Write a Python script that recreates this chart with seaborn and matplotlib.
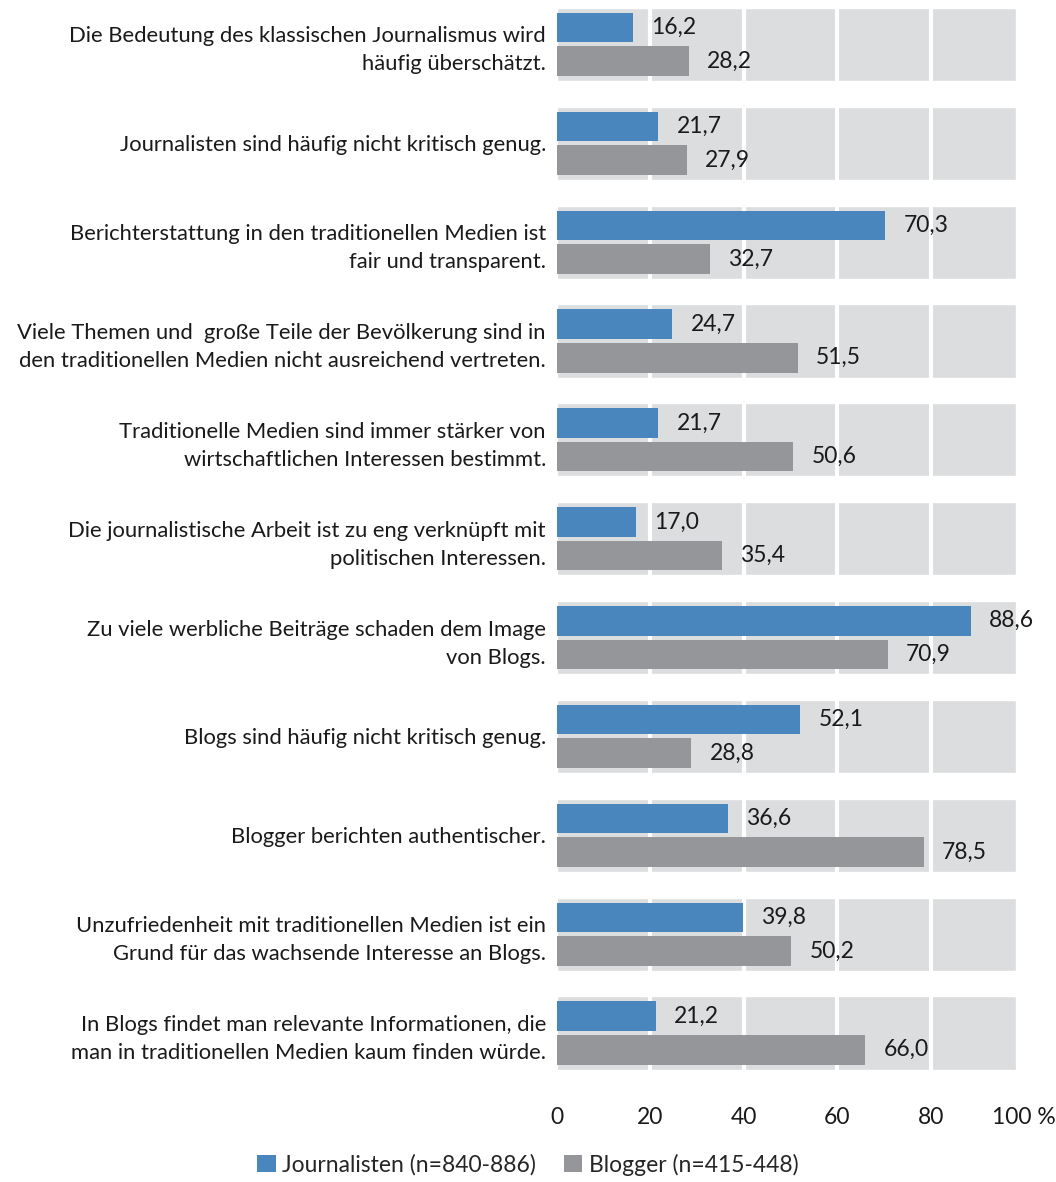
import matplotlib
matplotlib.use("Agg")
import matplotlib.pyplot as plt
import pandas as pd
import seaborn as sns

statements = [
    "Die Bedeutung des klassischen Journalismus wird\nhäufig überschätzt.",
    "Journalisten sind häufig nicht kritisch genug.",
    "Berichterstattung in den traditionellen Medien ist\nfair und transparent.",
    "Viele Themen und  große Teile der Bevölkerung sind in\nden traditionellen Medien nicht ausreichend vertreten.",
    "Traditionelle Medien sind immer stärker von\nwirtschaftlichen Interessen bestimmt.",
    "Die journalistische Arbeit ist zu eng verknüpft mit\npolitischen Interessen.",
    "Zu viele werbliche Beiträge schaden dem Image\nvon Blogs.",
    "Blogs sind häufig nicht kritisch genug.",
    "Blogger berichten authentischer.",
    "Unzufriedenheit mit traditionellen Medien ist ein\nGrund für das wachsende Interesse an Blogs.",
    "In Blogs findet man relevante Informationen, die\nman in traditionellen Medien kaum finden würde.",
]
journalisten = [16.2, 21.7, 70.3, 24.7, 21.7, 17.0, 88.6, 52.1, 36.6, 39.8, 21.2]
blogger = [28.2, 27.9, 32.7, 51.5, 50.6, 35.4, 70.9, 28.8, 78.5, 50.2, 66.0]
groups = ["Journalisten (n=840-886)", "Blogger (n=415-448)"]
ticks = [0, 20, 40, 60, 80, 100]
tick_labels = ["0", "20", "40", "60", "80", "100 %"]

colors = ["#4a86be", "#959699"]
band = "#dcdddf"

df = pd.DataFrame({
    "statement": statements * 2,
    "value": journalisten + blogger,
    "group": [groups[0]] * len(statements) + [groups[1]] * len(statements),
})

sns.set_theme(style="white")
plt.rcParams["font.family"] = ["Lato", "DejaVu Sans"]
fs = 16.5

fig = plt.figure(figsize=(10.56, 11.82), dpi=100)
ax = fig.add_axes([557 / 1056, 1 - 1090 / 1182, 467 / 1056, 1090 / 1182])

# grey background bands and white grid
ax.barh(range(len(statements)), 98.3, height=0.74, color=band, zorder=0)
for t in ticks[1:-1]:
    ax.axvline(t, color="white", lw=3, zorder=1)

sns.barplot(
    data=df, x="value", y="statement", hue="group", orient="h",
    palette=colors, width=0.68, gap=0.12, saturation=1, ax=ax, zorder=2,
    linewidth=0, legend=True,
)

for cont in ax.containers[1:]:
    ax.bar_label(cont, labels=[f"{b.get_width():.1f}".replace(".", ",") for b in cont],
                 padding=13, fontsize=fs, color="#1a1a1a")

ax.set_xlim(0, 100)
ax.set_ylim(10.577, -0.45)
ax.set_xticks(ticks)
ax.set_xticklabels(tick_labels, fontsize=fs, color="#1a1a1a")
ax.tick_params(axis="y", labelsize=15.8, pad=8, length=0, labelcolor="#1a1a1a")
ax.tick_params(axis="x", length=0, pad=12)
ax.set_xlabel("")
ax.set_ylabel("")
for tl in ax.get_yticklabels():
    tl.set_ha("right")
    tl.set_multialignment("right")
    tl.set_linespacing(1.5)
sns.despine(ax=ax, left=True, bottom=True)

handles, labels = ax.get_legend_handles_labels()
ax.get_legend().remove()
fig.legend(handles, labels, loc="lower center", bbox_to_anchor=(0.5, -0.012), ncol=2,
           frameon=False, fontsize=fs, handlelength=0.8, handleheight=0.8,
           handletextpad=0.3, columnspacing=1.2)

fig.savefig("out.png", dpi=100)
